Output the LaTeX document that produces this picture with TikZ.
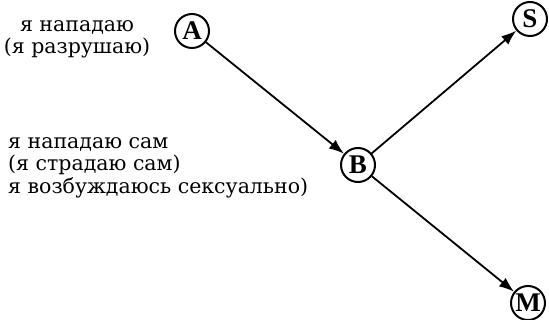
\documentclass[tikz,border=0pt]{standalone}
\usepackage{fontspec}
\setmainfont{DejaVu Serif}
\newfontfamily\letterfont{Liberation Serif}
\usetikzlibrary{arrows.meta}
\tikzset{
  st/.style={circle,draw,line width=2pt,minimum size=34pt,inner sep=0pt,
    font=\letterfont\fontsize{27}{27}\selectfont\bfseries},
  con/.style={line width=1.8pt,-{Latex[length=15pt,width=11pt]}},
  lbl/.style={font=\fontsize{20.5}{22.5}\selectfont,inner sep=0pt}
}
\begin{document}
\begin{tikzpicture}[x=1pt,y=-1pt]
\useasboundingbox (0,0) rectangle (549,320);
\node[st] (A) at (192,31) {A};
\node[st] (B) at (358,165) {B};
\node[st] (S) at (530,19) {S};
\node[st] (M) at (528,303) {M};
\draw[con] (A) -- (B);
\draw[con] (B) -- (S);
\draw[con] (B) -- (M);
\node[lbl,align=center,anchor=north] (t1) at (77,20) {я нападаю\\(я разрушаю)};
\node[lbl,align=left,anchor=north west] (t2) at (8,137) {я нападаю сам\\(я страдаю сам)\\я возбуждаюсь сексуально)};
\end{tikzpicture}
\end{document}
